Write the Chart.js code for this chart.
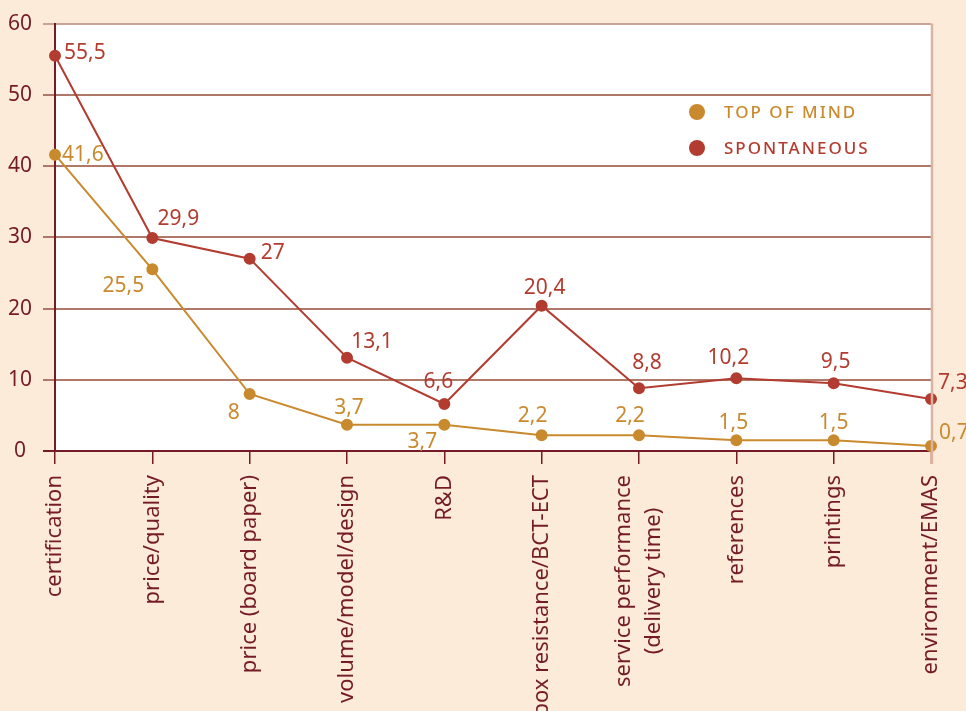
<!DOCTYPE html>
<html>
<head>
<meta charset="utf-8">
<script src="https://cdn.jsdelivr.net/npm/chart.js@4"></script>
<style>
  html, body { margin: 0; padding: 0; background: #fdebda; }
  #wrap { width: 966px; height: 711px; }
</style>
</head>
<body>
<div id="wrap"><canvas id="myChart" width="966" height="711"></canvas></div>
<script>
// categorias y valores
const categories = [
    "certification",
    "price/quality",
    "price (board paper)",
    "volume/model/design",
    "R&D",
    "box resistance/BCT-ECT",
    ["service performance", "(delivery time)"],
    "references",
    "printings",
    "environment/EMAS"
];
const topOfMind = [41.6, 25.5, 8, 3.7, 3.7, 2.2, 2.2, 1.5, 1.5, 0.7];
const spontaneous = [55.5, 29.9, 27, 13.1, 6.6, 20.4, 8.8, 10.2, 9.5, 7.3];
const yTicks = [0, 10, 20, 30, 40, 50, 60];
const seriesNames = ["TOP OF MIND", "SPONTANEOUS"];

// posicion de cada etiqueta respecto a su punto: [dx, dy, align]
const topLabelPos = [[7, 0, 'left'], [-29, 17, 'center'], [-16, 19, 'center'], [2, -17, 'center'], [-22, 17, 'center'],
    [-9, -19, 'center'], [-9, -19, 'center'], [-3, -17, 'center'], [0, -17, 'center'], [8, -13, 'left']];
const spontLabelPos = [[9, -3, 'left'], [26, -19, 'center'], [11, -6, 'left'], [25, -16, 'center'], [-6, -22, 'center'],
    [3, -18, 'center'], [8, -25, 'center'], [-8, -20, 'center'], [2, -21, 'center'], [7, -16, 'left']];

const FONT = '"Noto Sans", "Open Sans", sans-serif';
const ORANGE = '#c98a2e';
const RED = '#b23c30';
const MAROON = '#741b26';
const GRID = '#b07868';
const LIGHT = '#dcb3a3';

const fmt = (v) => String(v).replace('.', ',');

const background = {
    id: 'background',
    beforeDraw(chart) {
        const { ctx, chartArea: a } = chart;
        ctx.save();
        ctx.fillStyle = '#fdebda';
        ctx.fillRect(0, 0, chart.width, chart.height);
        ctx.fillStyle = '#ffffff';
        ctx.fillRect(a.left, a.top, a.right - a.left, a.bottom - a.top);
        ctx.restore();
    },
    afterDraw(chart) {
        const { ctx, chartArea: a } = chart;
        ctx.save();
        ctx.strokeStyle = LIGHT;
        ctx.lineWidth = 2.5;
        ctx.beginPath();
        ctx.moveTo(a.right + 1, a.top);
        ctx.lineTo(a.right + 1, a.bottom + 13);
        ctx.stroke();
        ctx.restore();
    }
};

// etiquetas de valores
const valueLabels = {
    id: 'valueLabels',
    afterDatasetsDraw(chart) {
        const { ctx } = chart;
        ctx.save();
        ctx.font = '21px ' + FONT;
        ctx.textBaseline = 'middle';
        chart.data.datasets.forEach((ds, di) => {
            const meta = chart.getDatasetMeta(di);
            const pos = di === 0 ? topLabelPos : spontLabelPos;
            ctx.fillStyle = ds.borderColor;
            meta.data.forEach((pt, i) => {
                const [dx, dy, align] = pos[i];
                ctx.textAlign = align;
                ctx.fillText(fmt(ds.data[i]), pt.x + dx, pt.y + dy);
            });
        });
        ctx.restore();
    }
};

// etiquetas verticales del eje x
const xLabels = {
    id: 'xLabels',
    afterDraw(chart) {
        const { ctx } = chart;
        const xs = chart.scales.x;
        ctx.save();
        ctx.font = '22px ' + FONT;
        ctx.fillStyle = MAROON;
        ctx.textAlign = 'center';
        ctx.textBaseline = 'middle';
        categories.forEach((lab, i) => {
            const lines = Array.isArray(lab) ? lab : [lab];
            const x = xs.getPixelForValue(i);
            const maxW = Math.max(...lines.map(l => ctx.measureText(l).width));
            const top = xs.top + 24;
            lines.forEach((l, j) => {
                const lx = x + (j - (lines.length - 1) / 2) * 30;
                ctx.save();
                ctx.translate(lx, top + maxW / 2);
                ctx.rotate(-Math.PI / 2);
                ctx.fillText(l, 0, 0);
                ctx.restore();
            });
        });
        ctx.restore();
    }
};

// leyenda dentro del area
const legendBox = {
    id: 'legendBox',
    afterDraw(chart) {
        const { ctx } = chart;
        ctx.save();
        ctx.font = '500 17px ' + FONT;
        ctx.letterSpacing = '2px';
        ctx.textBaseline = 'middle';
        ctx.textAlign = 'left';
        chart.data.datasets.forEach((ds, i) => {
            const y = 112 + i * 36;
            ctx.fillStyle = ds.borderColor;
            ctx.beginPath();
            ctx.arc(697, y, 8, 0, Math.PI * 2);
            ctx.fill();
            ctx.fillText(seriesNames[i], 724, y + 1);
        });
        ctx.restore();
    }
};

const config = {
    type: 'line',
    data: {
        labels: categories,
        datasets: [
            {
                label: seriesNames[0],
                data: topOfMind,
                borderColor: ORANGE,
                backgroundColor: ORANGE,
                borderWidth: 2,
                pointRadius: 5,
                pointHoverRadius: 5,
                fill: false,
                tension: 0
            },
            {
                label: seriesNames[1],
                data: spontaneous,
                borderColor: RED,
                backgroundColor: RED,
                borderWidth: 2,
                pointRadius: 5,
                pointHoverRadius: 5,
                fill: false,
                tension: 0
            }
        ]
    },
    options: {
        responsive: false,
        animation: false,
        clip: false,
        layout: { padding: { top: 21, right: 35, left: 0, bottom: 0 } },
        plugins: {
            legend: { display: false },
            tooltip: { enabled: false }
        },
        scales: {
            x: {
                offset: false,
                grid: {
                    drawOnChartArea: false,
                    drawTicks: true,
                    tickLength: 13,
                    lineWidth: 1.5,
                    color: (c) => c.index === categories.length - 1 ? LIGHT : MAROON
                },
                border: { color: MAROON, width: 1.5 },
                ticks: { color: 'transparent', autoSkip: false, maxRotation: 90, minRotation: 90 },
                afterFit(s) { s.height = 260; }
            },
            y: {
                min: 0,
                max: 60,
                afterBuildTicks(s) { s.ticks = yTicks.map(v => ({ value: v })); },
                grid: {
                    lineWidth: 2,
                    tickLength: 12,
                    color: (c) => c.tick.value === 60 ? '#c9a393' : (c.tick.value === 0 ? MAROON : GRID)
                },
                border: { color: MAROON, width: 2 },
                ticks: {
                    color: MAROON,
                    font: { family: FONT, size: 21 },
                    padding: 11,
                    crossAlign: 'center'
                },
                afterFit(s) { s.width = 55; }
            }
        }
    },
    plugins: [background, valueLabels, xLabels, legendBox]
};

new Chart(document.getElementById('myChart'), config);
</script>
</body>
</html>
